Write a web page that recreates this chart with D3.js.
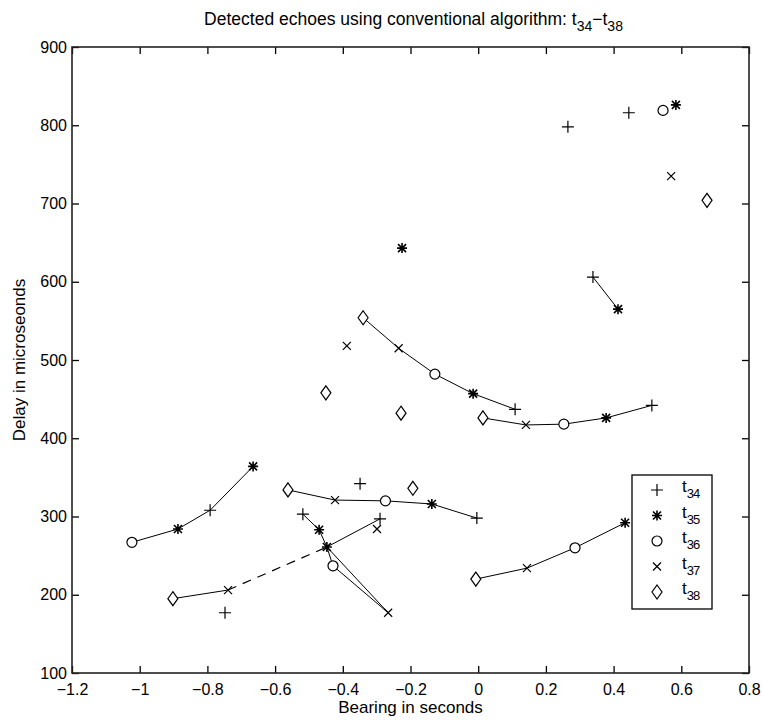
<!DOCTYPE html>
<html>
<head>
<meta charset="utf-8">
<script src="https://cdn.jsdelivr.net/npm/d3@7"></script>
<style>
  body { margin: 0; background: #fff; }
  text { font-family: "Liberation Sans", Arial, sans-serif; fill: #000; }
</style>
</head>
<body>
<svg id="chart" width="762" height="720"></svg>
<script>
// detections per frame, [bearing, delay]
const t34 = [[0.265, 798], [0.445, 816], [0.339, 606], [0.109, 437], [0.513, 442], [-0.792, 308],
  [-0.349, 342], [-0.004, 298], [-0.518, 303], [-0.290, 297], [-0.748, 177]];
const t35 = [[0.584, 826], [-0.225, 643], [0.413, 565], [-0.015, 457], [0.378, 426], [-0.665, 364],
  [-0.887, 284], [-0.137, 316], [0.434, 292], [-0.470, 283], [-0.447, 261]];
const t36 = [[0.546, 819], [-0.128, 482], [0.253, 418], [-1.023, 267], [-0.274, 320], [0.286, 260],
  [-0.429, 237]];
const t37 = [[0.570, 735], [-0.388, 518], [-0.235, 515], [0.141, 417], [-0.423, 321], [-0.299, 284],
  [0.144, 234], [-0.739, 206], [-0.266, 177]];
const t38 = [[0.676, 704], [-0.340, 554], [-0.450, 458], [-0.228, 432], [0.014, 426], [-0.562, 334],
  [-0.193, 336], [-0.007, 220], [-0.902, 195]];

const seriesNames = ['34', '35', '36', '37', '38'];
const markerTypes = ['plus', 'star', 'circle', 'cross', 'diamond'];

// associated tracks
const solidTracks = [
  [[0.339, 606], [0.413, 565]],
  [[-0.340, 554], [-0.235, 515], [-0.128, 482], [-0.015, 457], [0.109, 437]],
  [[0.014, 426], [0.141, 417], [0.253, 418], [0.378, 426], [0.513, 442]],
  [[-1.023, 267], [-0.887, 284], [-0.792, 308], [-0.665, 364]],
  [[-0.562, 334], [-0.423, 321], [-0.274, 320], [-0.137, 316], [-0.004, 298]],
  [[-0.007, 220], [0.144, 234], [0.286, 260], [0.434, 292]],
  [[-0.518, 303], [-0.470, 283], [-0.447, 261], [-0.429, 237], [-0.266, 177]],
  [[-0.447, 261], [-0.266, 177]],
  [[-0.902, 195], [-0.739, 206]],
  [[-0.447, 261], [-0.290, 297]]
];
const dashedTracks = [
  [[-0.739, 206], [-0.447, 261]]
];

const xTicks = [-1.2, -1, -0.8, -0.6, -0.4, -0.2, 0, 0.2, 0.4, 0.6, 0.8];
const yTicks = [100, 200, 300, 400, 500, 600, 700, 800, 900];

const margin = { left: 72, right: 13, top: 47, bottom: 47 };
const W = 762, H = 720;
const svg = d3.select('#chart');

const x = d3.scaleLinear().domain([-1.2, 0.8]).range([margin.left, W - margin.right]);
const y = d3.scaleLinear().domain([100, 900]).range([H - margin.bottom, margin.top]);

const fmt = (d) => (d < 0 ? '\u2212' : '') + String(Math.abs(d));

// axes (matlab style: box with inward ticks)
const tick = 7;
svg.append('g')
  .attr('transform', `translate(0,${y(100)})`)
  .call(d3.axisBottom(x).tickValues(xTicks).tickSize(-tick).tickPadding(11).tickFormat(fmt))
  .call((g) => g.select('.domain').remove());
svg.append('g')
  .attr('transform', `translate(0,${y(900)})`)
  .call(d3.axisTop(x).tickValues(xTicks).tickSize(-tick).tickFormat(''))
  .call((g) => g.select('.domain').remove());
svg.append('g')
  .attr('transform', `translate(${x(-1.2)},0)`)
  .call(d3.axisLeft(y).tickValues(yTicks).tickSize(-tick).tickPadding(5).tickFormat(d3.format('d')))
  .call((g) => g.select('.domain').remove());
svg.append('g')
  .attr('transform', `translate(${x(0.8)},0)`)
  .call(d3.axisRight(y).tickValues(yTicks).tickSize(-tick).tickFormat(''))
  .call((g) => g.select('.domain').remove());

svg.selectAll('.tick text').attr('font-size', 16).attr('font-family', '"Liberation Sans", Arial, sans-serif')
  .attr('fill', '#222');
svg.selectAll('.tick line').attr('stroke', '#000').attr('stroke-width', 1.3);

svg.append('rect')
  .attr('x', x(-1.2)).attr('y', y(900))
  .attr('width', x(0.8) - x(-1.2)).attr('height', y(100) - y(900))
  .attr('fill', 'none').attr('stroke', '#222').attr('stroke-width', 1.6);

// tracks
const line = d3.line().x((d) => x(d[0])).y((d) => y(d[1]));
svg.append('g').selectAll('path')
  .data(solidTracks)
  .join('path')
  .attr('d', line)
  .attr('fill', 'none').attr('stroke', '#000').attr('stroke-width', 1);
svg.append('g').selectAll('path')
  .data(dashedTracks)
  .join('path')
  .attr('d', line)
  .attr('fill', 'none').attr('stroke', '#000').attr('stroke-width', 1.2)
  .attr('stroke-dasharray', '9,7');

// markers
function markerPath(type) {
  const p = d3.path();
  if (type === 'plus') {
    p.moveTo(-6, 0); p.lineTo(6, 0); p.moveTo(0, -6); p.lineTo(0, 6);
  } else if (type === 'star') {
    p.moveTo(-5, 0); p.lineTo(5, 0); p.moveTo(0, -5); p.lineTo(0, 5);
    p.moveTo(-4, -4); p.lineTo(4, 4); p.moveTo(-4, 4); p.lineTo(4, -4);
  } else if (type === 'circle') {
    p.arc(0, 0, 5, 0, 2 * Math.PI);
  } else if (type === 'cross') {
    p.moveTo(-4, -4); p.lineTo(4, 4); p.moveTo(-4, 4); p.lineTo(4, -4);
  } else if (type === 'diamond') {
    p.moveTo(0, -7); p.lineTo(5, 0); p.lineTo(0, 7); p.lineTo(-5, 0); p.closePath();
  }
  return p.toString();
}

const allSeries = [t34, t35, t36, t37, t38];
allSeries.forEach((pts, i) => {
  svg.append('g').selectAll('path')
    .data(pts)
    .join('path')
    .attr('transform', (d) => `translate(${x(d[0])},${y(d[1])})`)
    .attr('d', markerPath(markerTypes[i]))
    .attr('fill', markerTypes[i] === 'circle' || markerTypes[i] === 'diamond' ? '#fff' : 'none')
    .attr('stroke', '#000')
    .attr('stroke-width', markerTypes[i] === 'star' ? 1.6 : 1.2);
});

// legend
const lg = svg.append('g').attr('transform', 'translate(632,475)');
lg.append('rect').attr('width', 80).attr('height', 134)
  .attr('fill', '#fff').attr('stroke', '#000').attr('stroke-width', 1.3);
seriesNames.forEach((name, i) => {
  const row = lg.append('g').attr('transform', `translate(0,${15 + i * 25.5})`);
  row.append('path')
    .attr('transform', 'translate(25,0)')
    .attr('d', markerPath(markerTypes[i]))
    .attr('fill', markerTypes[i] === 'circle' || markerTypes[i] === 'diamond' ? '#fff' : 'none')
    .attr('stroke', '#000')
    .attr('stroke-width', markerTypes[i] === 'star' ? 1.6 : 1.2);
  const t = row.append('text').attr('x', 50).attr('y', 2).attr('font-size', 17).attr('fill', '#222');
  t.append('tspan').text('t');
  t.append('tspan').attr('dy', 6).attr('font-size', 13).attr('letter-spacing', -1).text(name);
});

// title and labels
const title = svg.append('text')
  .attr('x', (x(-1.2) + x(0.8)) / 2 + 3).attr('y', 25)
  .attr('text-anchor', 'middle').attr('font-size', 17.5).attr('fill', '#111');
title.append('tspan').text('Detected echoes using conventional algorithm: t');
title.append('tspan').attr('dy', 6).attr('font-size', 14).text('34');
title.append('tspan').attr('dy', -6).text('\u2212t');
title.append('tspan').attr('dy', 6).attr('font-size', 14).text('38');

svg.append('text')
  .attr('x', (x(-1.2) + x(0.8)) / 2).attr('y', 713)
  .attr('text-anchor', 'middle').attr('font-size', 17).attr('fill', '#111')
  .text('Bearing in seconds');

svg.append('text')
  .attr('transform', `translate(25,${(y(100) + y(900)) / 2}) rotate(-90)`)
  .attr('text-anchor', 'middle').attr('font-size', 17).attr('fill', '#111')
  .text('Delay in microseonds');
</script>
</body>
</html>
